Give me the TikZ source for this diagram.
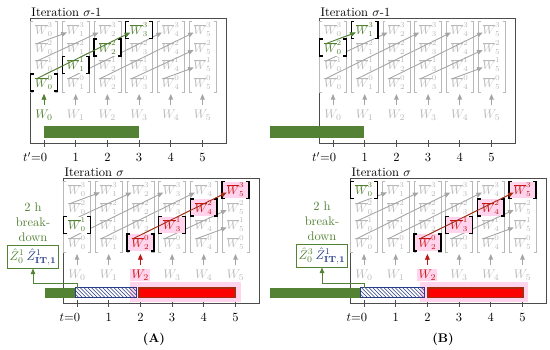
\documentclass[tikz,border=0pt]{standalone}
\usepackage{amsmath}
\usetikzlibrary{arrows.meta,positioning,calc,patterns}
\definecolor{gc}{RGB}{84,130,53}
\definecolor{lg}{RGB}{185,185,185}
\definecolor{ag}{RGB}{165,165,165}
\definecolor{rc}{RGB}{200,20,20}
\definecolor{bc}{RGB}{165,45,20}
\definecolor{pc}{RGB}{255,212,236}
\definecolor{nc}{RGB}{40,60,135}
\tikzset{ent/.style={text=lg,inner sep=.5pt,font=\small},
 hent/.style={ent,minimum width=21pt,minimum height=13pt,fill=white},
 wl/.style={text=lg,font=\normalsize,inner sep=1pt},
 frame/.style={draw=black!70,line width=.6pt},
 brk/.style={draw=lg,line width=.6pt},
 hb/.style={draw=black,line width=1.2pt},
 arr/.style={-{Triangle[length=1.6mm,width=1.3mm]},line width=.7pt},
 ga/.style={arr,draw=ag},
 every node/.style={font=\normalsize}}
% one iteration window: name, x of column 0, top of frame, title suffix, time symbol
\newcommand\panel[5]{%
 \draw[frame] (#2-14,#3) rectangle (#2+182,#3+125);
 \node[anchor=south west,inner sep=1pt] (#1-ttl) at (#2-14,#3) {Iteration $\sigma$#4};
 \foreach \i in {0,...,5}{
  \foreach \k in {0,...,3}
   \node[ent] (#1-\i-\k) at ({#2+31.7*\i},{#3+12+17.5*(3-\k)}) {$\overline{W}_{\i}^{\k}$};
  \draw[brk] ({#2+31.7*\i-11},#3+3) -- ++(-2.5,0) -- ++(0,71) -- ++(2.5,0);
  \draw[brk] ({#2+31.7*\i+11},#3+3) -- ++(2.5,0) -- ++(0,71) -- ++(-2.5,0);
  \coordinate (#1-b\i) at ({#2+31.7*\i},#3+76);
  \node[wl] (#1-w\i) at ({#2+31.7*\i},#3+97) {$W_{\i}$};
  \draw[ga,shorten <=3pt] (#1-w\i) -- (#1-b\i);
  \draw[frame] ({#2+31.7*\i},#3+122) -- ++(0,7);
  \node[anchor=base] (#1-t\i) at ({#2+31.7*\i},#3+144) {\ifnum\i=0 \llap{#5=}\fi\i};
 }
 \foreach \a/\b/\c/\d in {0/0/3/3,0/1/2/3,0/2/1/3,1/0/4/3,2/0/5/3,3/0/5/2,4/0/5/1}
  \draw[ga] ([shift={(-6pt,3pt)}]#1-\a-\b.center) -- ([shift={(-7pt,-2pt)}]#1-\c-\d.center);
}
% highlighted entry with its own brackets
\newcommand\hlent[4]{%
 \node[hent,#4] (#1h-#2-#3) at (#1-#2-#3) {$\overline{W}_{#2}^{#3}$};
 \draw[hb] ([xshift=2.5pt]#1h-#2-#3.north west) -| (#1h-#2-#3.south west) -- ++(2.5pt,0);
 \draw[hb] ([xshift=-2.5pt]#1h-#2-#3.north east) -| (#1h-#2-#3.south east) -- ++(-2.5pt,0);
}
\begin{document}
\begin{tikzpicture}[x=0.8pt,y=-0.8pt]
\useasboundingbox (0,0) rectangle (550,350);

% (A)
\panel{A1}{44}{18}{-1}{$t'$}
\fill[gc] (44,126) rectangle (139,138);
\foreach \i in {0,...,3} \hlent{A1}{\i}{\i}{text=gc};
\draw[arr,draw=gc] ([shift={(-6pt,3pt)}]A1h-0-0.center) -- ([shift={(-7pt,-2pt)}]A1h-3-3.center);
\node[wl,text=gc,fill=white] (A1-wh) at (A1-w0) {$W_0$};
\draw[arr,draw=gc,shorten <=3pt] (A1-wh) -- (A1-b0);

\panel{A2}{77}{178}{}{$t$}
\hlent{A2}{0}{1}{text=gc}
\hlent{A2}{2}{0}{text=rc,fill=pc}
\hlent{A2}{3}{1}{text=rc,fill=pc}
\hlent{A2}{4}{2}{text=rc,fill=pc}
\hlent{A2}{5}{3}{text=rc,fill=pc}
\draw[arr,draw=bc] ([shift={(-6pt,3pt)}]A2h-2-0.center) -- ([shift={(-7pt,-2pt)}]A2h-5-3.center);
\node[wl,text=rc,fill=pc] (A2-wh) at (A2-w2) {$W_2$};
\draw[arr,draw=rc,shorten <=3pt] (A2-wh) -- (A2-b2);
\fill[pc] (130,282) rectangle (241,302);
\fill[gc] (45,288) rectangle (75,298);
\draw[nc,line width=.6pt,pattern=north west lines,pattern color=nc] (75,287.5) rectangle (136,297.5);
\draw[bc,fill=red,line width=1.5pt] (139,288) rectangle (235,297.5);
\node[text=gc,align=center,inner sep=0pt] (A-brk) at (33,222) {2 h\\break-\\down};
\node[draw=gc,line width=.8pt,inner sep=2pt] (A-z) at (33,257) {$\color{gc}\hat{Z}_0^1$\,$\color{nc}\hat{Z}^1_{\mathbf{IT,1}}$};
\coordinate (A-tz) at (77,288);
\draw[arr,draw=gc] (A-tz) -- ++(0,-5) -| (A-z);
\node[font=\bfseries] (A-cap) at (154,339) {(A)};

% (B)
\panel{B1}{333}{18}{-1}{$t'$}
\fill[gc] (270,126) rectangle (364,138);
\hlent{B1}{0}{2}{text=gc}
\hlent{B1}{1}{3}{text=gc}
\draw[arr,draw=gc] ([shift={(-6pt,3pt)}]B1h-0-2.center) -- ([shift={(-7pt,-2pt)}]B1h-1-3.center);

\panel{B2}{364}{178}{}{$t$}
\hlent{B2}{0}{3}{text=gc}
\hlent{B2}{2}{0}{text=rc,fill=pc}
\hlent{B2}{3}{1}{text=rc,fill=pc}
\hlent{B2}{4}{2}{text=rc,fill=pc}
\hlent{B2}{5}{3}{text=rc,fill=pc}
\draw[arr,draw=bc] ([shift={(-6pt,3pt)}]B2h-2-0.center) -- ([shift={(-7pt,-2pt)}]B2h-5-3.center);
\node[wl,text=rc,fill=pc] (B2-wh) at (B2-w2) {$W_2$};
\draw[arr,draw=rc,shorten <=3pt] (B2-wh) -- (B2-b2);
\fill[pc] (420,282) rectangle (528,302);
\fill[gc] (270,288) rectangle (360,298);
\draw[nc,line width=.6pt,pattern=north west lines,pattern color=nc] (360,287.5) rectangle (424,297.5);
\draw[bc,fill=red,line width=1.5pt] (428,288) rectangle (523,297.5);
\node[text=gc,align=center,inner sep=0pt] (B-brk) at (322,221) {2 h\\break-\\down};
\node[draw=gc,line width=.8pt,inner sep=2pt] (B-z) at (322,256) {$\color{gc}\hat{Z}_0^3$\,$\color{nc}\hat{Z}^1_{\mathbf{IT,1}}$};
\coordinate (B-tz) at (364,288);
\draw[arr,draw=gc] (B-tz) -- ++(0,-5) -| (B-z);
\node[font=\bfseries] (B-cap) at (443,339) {(B)};
\end{tikzpicture}
\end{document}
